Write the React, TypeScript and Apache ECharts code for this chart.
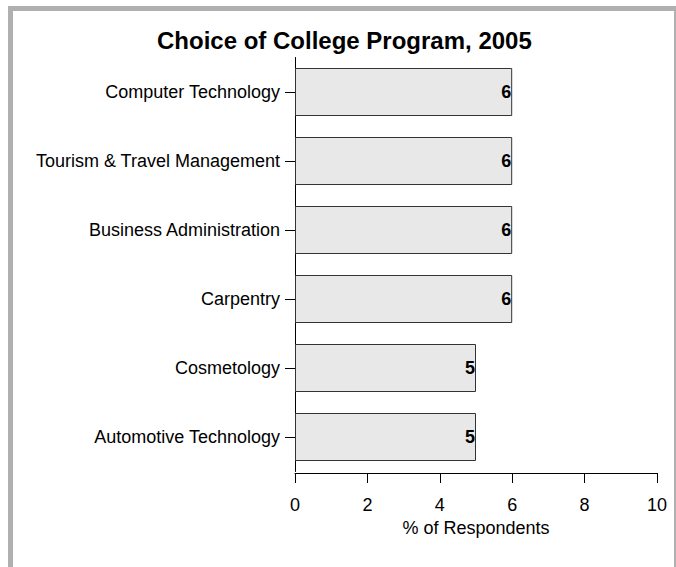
import React, { useEffect, useRef } from "react";
import * as echarts from "echarts";

const categories = [
  "Computer Technology",
  "Tourism & Travel Management",
  "Business Administration",
  "Carpentry",
  "Cosmetology",
  "Automotive Technology",
];
const values = [6, 6, 6, 6, 5, 5];
const xTicks = [0, 2, 4, 6, 8, 10];
const titleText = "Choice of College Program, 2005";
const xAxisTitle = "% of Respondents";

const FONT = "Liberation Sans, Arial, sans-serif";

export default function App() {
  const ref = useRef<HTMLDivElement>(null);
  useEffect(() => {
    if (!ref.current) return;
    const chart = echarts.init(ref.current, undefined, { renderer: "svg" });
    chart.setOption({
      animation: false,
      backgroundColor: "#ffffff",
      title: {
        text: titleText,
        left: 157,
        top: 28,
        padding: 0,
        textStyle: { fontFamily: FONT, fontSize: 24, fontWeight: "bold", color: "#000" },
      },
      graphic: [
        { type: "rect", shape: { x: 8, y: 6, width: 668, height: 5 }, style: { fill: "#b0b0b0" }, silent: true },
        { type: "rect", shape: { x: 8, y: 6, width: 5, height: 561 }, style: { fill: "#b0b0b0" }, silent: true },
        { type: "rect", shape: { x: 674, y: 6, width: 2, height: 561 }, style: { fill: "#b0b0b0" }, silent: true },
      ],
      grid: { left: 295, right: 19, top: 57.5, height: 414, containLabel: false },
      xAxis: {
        type: "value",
        min: 0,
        max: 10,
        interval: 2,
        offset: 1.5,
        name: xAxisTitle,
        nameLocation: "middle",
        nameGap: 40,
        nameTextStyle: { fontFamily: FONT, fontSize: 18, color: "#000" },
        axisLine: { show: true, lineStyle: { color: "#000", width: 1 } },
        axisTick: { show: true, length: 10, lineStyle: { color: "#000" } },
        axisLabel: {
          fontFamily: FONT,
          fontSize: 18,
          color: "#000",
          margin: 23,
          formatter: (v: number) => (xTicks.includes(v) ? String(v) : ""),
        },
        splitLine: { show: false },
      },
      yAxis: {
        type: "category",
        data: categories,
        inverse: true,
        axisLine: { show: true, lineStyle: { color: "#000", width: 1 } },
        axisTick: { show: true, alignWithLabel: true, length: 10, lineStyle: { color: "#000" } },
        axisLabel: { fontFamily: FONT, fontSize: 18, color: "#000", margin: 15 },
      },
      series: [
        {
          type: "bar",
          data: values,
          barWidth: 48,
          itemStyle: { color: "#e8e8e8", borderColor: "#333", borderWidth: 1 },
          label: {
            show: true,
            position: "insideRight",
            distance: 1,
            fontFamily: FONT,
            fontSize: 18,
            fontWeight: "bold",
            color: "#000",
          },
        },
      ],
    });
    return () => chart.dispose();
  }, []);
  return (
    <div
      ref={ref}
      style={{ position: "absolute", left: 0, top: 0, width: 676, height: 567 }}
    />
  );
}
